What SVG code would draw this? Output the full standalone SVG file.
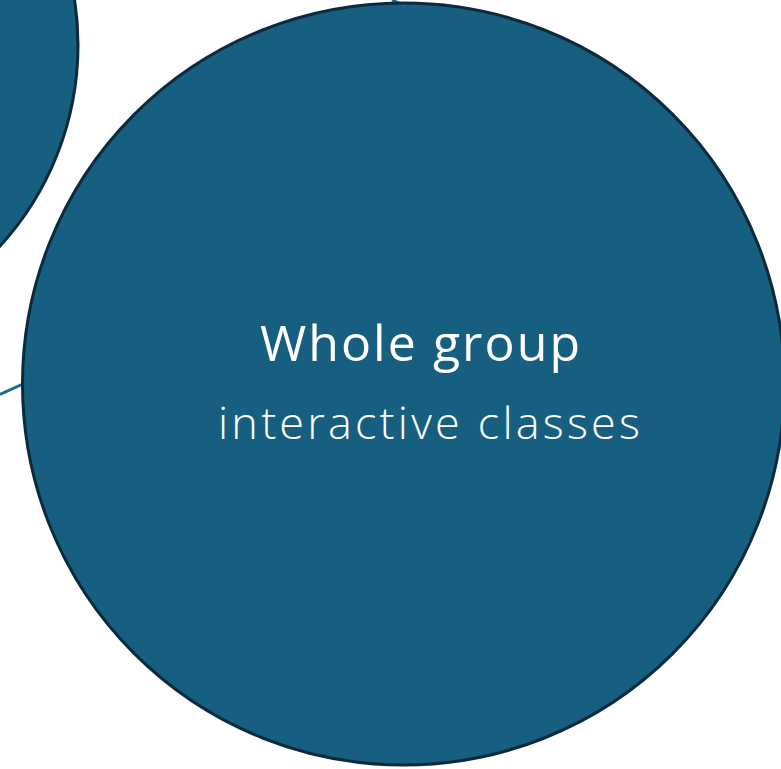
<svg xmlns="http://www.w3.org/2000/svg" width="781" height="769" viewBox="0 0 781 769">
<style>
.node{fill:#175f81;stroke:#0b2a3b;stroke-width:3}
.conn{stroke:#1b6a8f;stroke-width:3;fill:none}
.t{fill:#ffffff;font-family:"Open Sans",Lato,sans-serif;font-variant-ligatures:none}
</style>
<rect width="781" height="769" fill="#ffffff"/>
<g id="connectors">
<line class="conn" x1="0" y1="394.5" x2="24" y2="383.5"/>
<line class="conn" x1="392" y1="0" x2="403" y2="5"/>
</g>
<g id="node-other">
<circle class="node" cx="-220" cy="45" r="298"/>
</g>
<g id="node-whole-group">
<circle class="node" cx="403.5" cy="384" r="381"/>
<text class="t" x="260" y="361" font-size="50" textLength="320" lengthAdjust="spacing">Whole group</text>
<text class="t" x="218" y="439" font-size="45" font-weight="300" textLength="422" lengthAdjust="spacing">interactive classes</text>
</g>
</svg>
